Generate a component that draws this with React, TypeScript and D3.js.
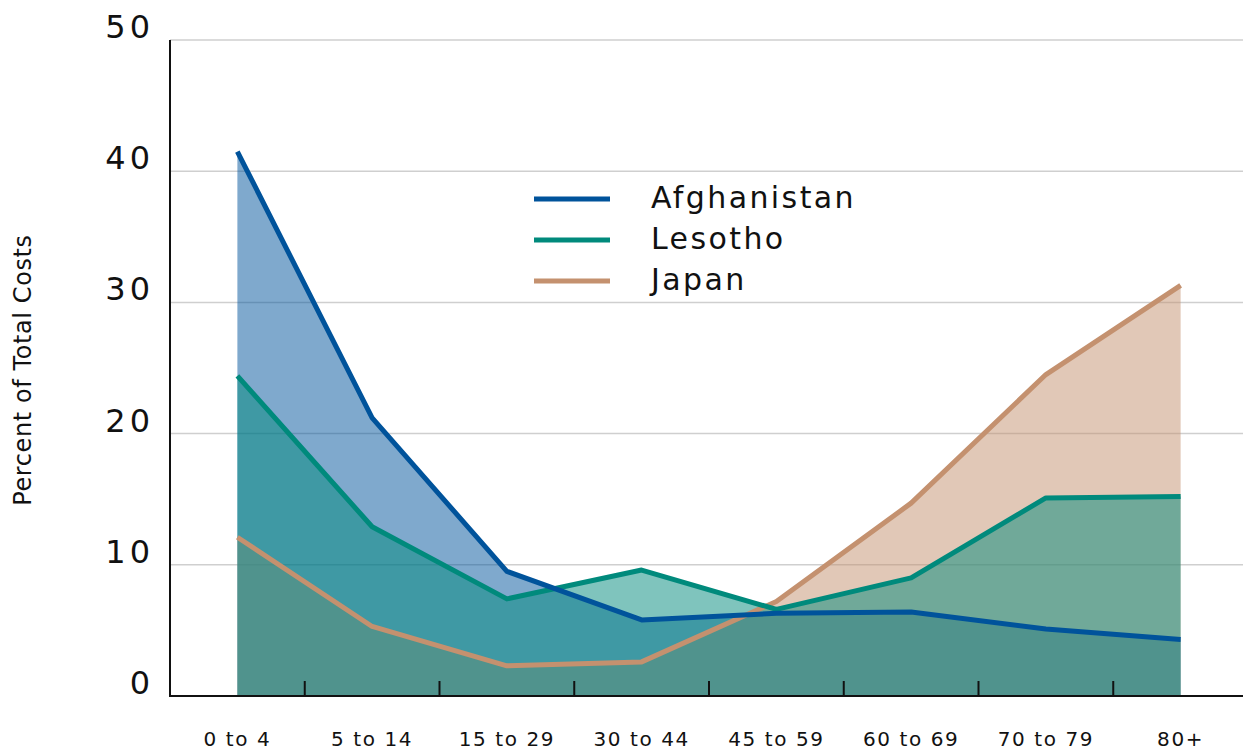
import React from 'react';
import * as d3 from 'd3';

const ageGroups = ['0 to 4', '5 to 14', '15 to 29', '30 to 44', '45 to 59', '60 to 69', '70 to 79', '80+'];
const afghanistan = [41.5, 21.2, 9.5, 5.8, 6.3, 6.4, 5.1, 4.3];
const lesotho = [24.4, 12.9, 7.4, 9.6, 6.6, 9.0, 15.1, 15.2];
const japan = [12.1, 5.3, 2.3, 2.6, 7.2, 14.7, 24.5, 31.3];
const yTicks = [0, 10, 20, 30, 40, 50];

const series = [
  { name: 'Afghanistan', values: afghanistan, color: '#00539b' },
  { name: 'Lesotho', values: lesotho, color: '#008a7c' },
  { name: 'Japan', values: japan, color: '#c4916f' },
];

// fill order: Afghanistan, Japan, Lesotho; lines: Japan, Lesotho, Afghanistan
const areaOrder = ['Afghanistan', 'Japan', 'Lesotho'];
const lineOrder = ['Japan', 'Lesotho', 'Afghanistan'];

const W = 1243;
const H = 753;
const left = 170;
const right = 1248;
const top = 40;
const bottom = 696;
const labelFont = "'DejaVu Sans', sans-serif";

export default function App() {
  const x = d3.scaleBand<string>().domain(ageGroups).range([left, right]);
  const y = d3.scaleLinear().domain([0, 50]).range([bottom, top]);
  const cx = (d: string) => (x(d) ?? 0) + x.bandwidth() / 2;

  const area = d3
    .area<number>()
    .x((_, i) => cx(ageGroups[i]))
    .y0(y(0))
    .y1((d) => y(d));
  const line = d3
    .line<number>()
    .x((_, i) => cx(ageGroups[i]))
    .y((d) => y(d));

  const byName = (n: string) => series.find((s) => s.name === n)!;
  const boundaries = ageGroups.slice(1).map((d) => x(d) ?? 0);

  return (
    <div style={{ position: 'absolute', left: 0, top: 0 }}>
      <svg width={W} height={H} style={{ display: 'block', background: '#fff' }}>
        {/* gridlines */}
        {yTicks.slice(1).map((t) => (
          <line key={t} x1={left} x2={W} y1={y(t)} y2={y(t)} stroke="#cfcfcf" strokeWidth={1.5} />
        ))}

        {/* areas */}
        {areaOrder.map((n) => {
          const s = byName(n);
          return <path key={n} d={area(s.values) ?? ''} fill={s.color} fillOpacity={0.5} />;
        })}

        {/* lines */}
        {lineOrder.map((n) => {
          const s = byName(n);
          return (
            <path
              key={n}
              d={line(s.values) ?? ''}
              fill="none"
              stroke={s.color}
              strokeWidth={5}
              strokeLinejoin="round"
            />
          );
        })}

        {/* axes */}
        <line x1={left} x2={left} y1={top} y2={bottom + 1} stroke="#111" strokeWidth={2} />
        <line x1={left} x2={W} y1={bottom} y2={bottom} stroke="#111" strokeWidth={2} />
        {boundaries.map((b, i) => (
          <line key={i} x1={b} x2={b} y1={bottom - 15} y2={bottom} stroke="#111" strokeWidth={2} />
        ))}

        {/* y tick labels */}
        {yTicks.map((t) => (
          <text
            key={t}
            x={154}
            y={y(t) - 2}
            textAnchor="end"
            fontFamily={labelFont}
            fontSize={32}
            letterSpacing={4}
            fill="#111"
          >
            {t}
          </text>
        ))}

        {/* x labels */}
        {ageGroups.map((g) => (
          <text
            key={g}
            x={cx(g)}
            y={746}
            textAnchor="middle"
            fontFamily={labelFont}
            fontSize={20}
            letterSpacing={1.6}
            fill="#111"
          >
            {g}
          </text>
        ))}

        {/* y title */}
        <text
          transform={`translate(31,${(top + bottom) / 2 + 2}) rotate(-90)`}
          textAnchor="middle"
          fontFamily="'DejaVu Sans', sans-serif"
          fontSize={24}
          letterSpacing={0.6}
          fill="#111"
        >
          Percent of Total Costs
        </text>

        {/* legend */}
        {series.map((s, i) => (
          <g key={s.name} transform={`translate(0,${i * 41})`}>
            <line x1={534} x2={610} y1={199} y2={199} stroke={s.color} strokeWidth={5} />
            <text
              x={651}
              y={208}
              fontFamily={labelFont}
              fontSize={30}
              letterSpacing={2.4}
              fill="#111"
            >
              {s.name}
            </text>
          </g>
        ))}
      </svg>
    </div>
  );
}
